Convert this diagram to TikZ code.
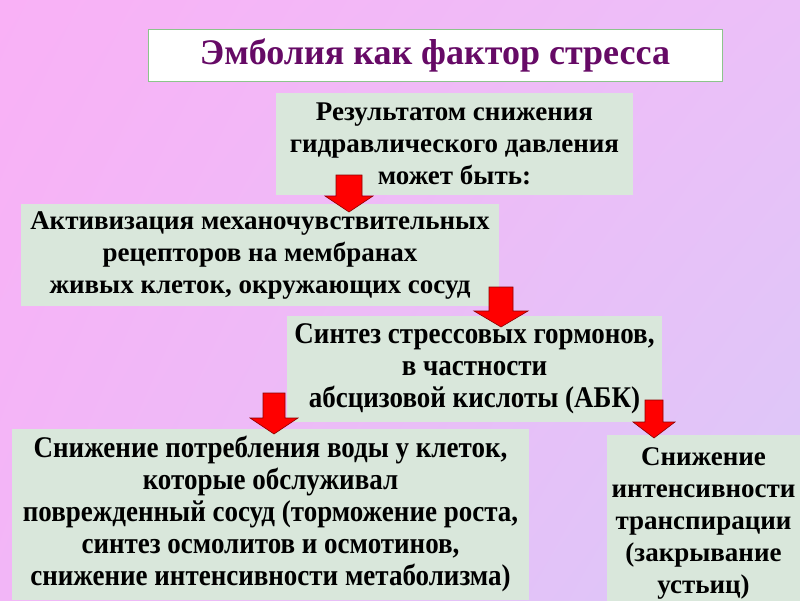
\documentclass[tikz,border=0pt]{standalone}
\usepackage{fontspec}
\usetikzlibrary{shadings}
\setmainfont{Liberation Serif}
\newfontfamily\wideserif{Liberation Serif}
\newfontfamily\narrowserif[FakeStretch=0.9]{Liberation Serif}
\definecolor{bgpinkA}{HTML}{F9B1F6}
\definecolor{bgpinkB}{HTML}{EBC0F8}
\definecolor{bgpinkC}{HTML}{F2B6F7}
\definecolor{bglilac}{HTML}{DAC9F8}
\definecolor{boxgreen}{HTML}{D9E7DB}
\definecolor{titlegreen}{HTML}{8CC48C}
\definecolor{titleplum}{HTML}{660A66}
\tikzset{
  box/.style={fill=boxgreen, inner sep=0pt, align=center,
    font=\wideserif\bfseries\fontsize{27}{32}\selectfont},
  narrowbox/.style={box, font=\narrowserif\bfseries\fontsize{30}{32}\selectfont},
  redarrow/.style={fill=red, draw=red!55!black, line width=0.6pt},
}
\begin{document}
\begin{tikzpicture}[x=1pt, y=-1pt]
    % Background
    \useasboundingbox (0,0) rectangle (800,600);
    \shade[upper left=bgpinkA, upper right=bgpinkB, lower left=bgpinkC, lower right=bglilac]
      (0,0) rectangle (800,600);

    % Title
    \node[fill=white, draw=titlegreen, line width=0.8pt, minimum width=574pt, minimum height=52pt,
      text=titleplum, font=\wideserif\bfseries\fontsize{36}{38}\selectfont] (title) at (435,55)
      {Эмболия как фактор стресса};

    % Boxes
    \node[box, minimum width=357pt, minimum height=102pt] (result) at (454.5,144)
      {Результатом снижения\\гидравлического давления\\может быть:};
    \node[box, minimum width=478pt, minimum height=102pt] (activ) at (260,255)
      {Активизация механочувствительных\\рецепторов на мембранах\\живых клеток, окружающих сосуд};
    \node[narrowbox, minimum width=375pt, minimum height=106pt] (synth) at (474.5,369)
      {Синтез стрессовых гормонов,\\в частности\\абсцизовой кислоты (АБК)};
    \node[narrowbox, minimum width=517pt, minimum height=171pt] (water) at (270.5,514)
      {Снижение потребления воды у клеток,\\которые обслуживал\\поврежденный сосуд (торможение роста,\\синтез осмолитов и осмотинов,\\снижение интенсивности метаболизма)};
    \node[box, minimum width=193pt, minimum height=176pt] (transp) at (703.5,523)
      {Снижение\\интенсивности\\транспирации\\(закрывание\\устьиц)};

    % Arrows
    \foreach \cx/\yt/\yb/\sw/\hw in {349/175/212/13/24, 501/287/327/12/27, 274/393/434/11/24, 654/400/438/9/21}{
      \draw[redarrow] (\cx-\sw,\yt) -- (\cx+\sw,\yt) -- (\cx+\sw,\yb-16) -- (\cx+\hw,\yb-16)
        -- (\cx,\yb) -- (\cx-\hw,\yb-16) -- (\cx-\sw,\yb-16) -- cycle;
    }
\end{tikzpicture}
\end{document}
